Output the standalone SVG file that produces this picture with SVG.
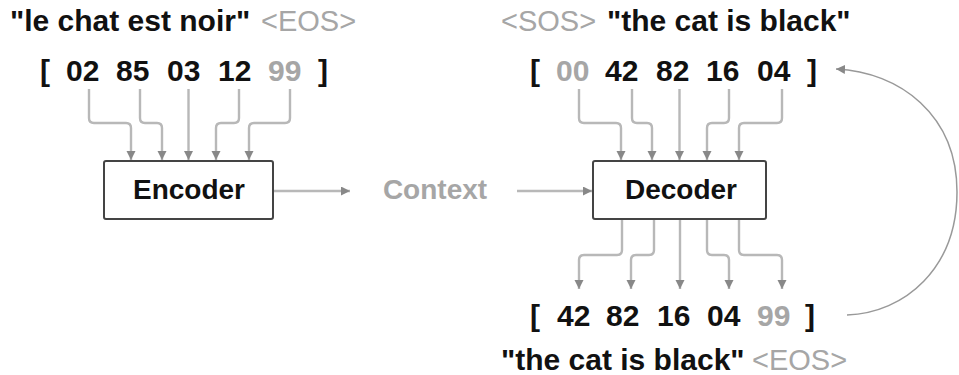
<svg xmlns="http://www.w3.org/2000/svg" width="959" height="375" viewBox="0 0 959 375">
<style>
text{font-family:"Liberation Sans",Arial,sans-serif;font-weight:bold;font-size:30px;fill:#111}
.g{fill:#a6a6a6;font-weight:normal;font-size:29px}
.gb{fill:#a6a6a6}
.lbl{font-size:28px}
.box{fill:#fff;stroke:#444;stroke-width:2}
.wire{fill:none;stroke:#b8b8b8;stroke-width:2.4}
.loop{fill:none;stroke:#999;stroke-width:1.5}
</style>
<defs>
<marker id="ah" markerUnits="userSpaceOnUse" markerWidth="10" markerHeight="10" refX="9" refY="4.5" orient="auto">
<path d="M0,0 L9,4.5 L0,9 z" fill="#888"/>
</marker>
</defs>

<g id="enc-title">
<text x="10" y="31">"le chat est noir"</text>
<text class="g" x="261" y="31">&lt;EOS&gt;</text>
</g>
<g id="enc-input">
<text x="40" y="81">[</text>
<text x="66" y="81">02</text>
<text x="116" y="81">85</text>
<text x="167" y="81">03</text>
<text x="218" y="81">12</text>
<text class="gb" x="268" y="81">99</text>
<text x="318" y="81">]</text>
</g>

<g id="encoder">
<rect class="box" x="104" y="161" width="169" height="58" rx="2"/>
<text class="lbl" x="189" y="199" text-anchor="middle">Encoder</text>
</g>

<g id="context">
<text class="gb lbl" x="435" y="199" text-anchor="middle">Context</text>
</g>

<g id="dec-title">
<text class="g" x="501" y="31">&lt;SOS&gt;</text>
<text x="607" y="31">"the cat is black"</text>
</g>
<g id="dec-input">
<text x="530" y="81">[</text>
<text class="gb" x="556" y="81">00</text>
<text x="605" y="81">42</text>
<text x="656" y="81">82</text>
<text x="706" y="81">16</text>
<text x="757" y="81">04</text>
<text x="807" y="81">]</text>
</g>

<g id="decoder">
<rect class="box" x="593" y="161" width="173" height="58" rx="2"/>
<text class="lbl" x="681" y="199" text-anchor="middle">Decoder</text>
</g>

<g id="dec-output">
<text x="530" y="326">[</text>
<text x="557" y="326">42</text>
<text x="606" y="326">82</text>
<text x="657" y="326">16</text>
<text x="707" y="326">04</text>
<text class="gb" x="757" y="326">99</text>
<text x="805" y="326">]</text>
</g>
<g id="out-title">
<text x="501" y="370">"the cat is black"</text>
<text class="g" x="752" y="370">&lt;EOS&gt;</text>
</g>

<g id="connectors">
<path class="wire" marker-end="url(#ah)" d="M89,89 V118 Q89,123 94,123 H126 Q131,123 131,128 V160"/>
<path class="wire" marker-end="url(#ah)" d="M140,89 V118 Q140,123 145,123 H157 Q162,123 162,128 V160"/>
<path class="wire" marker-end="url(#ah)" d="M188.5,89 V160"/>
<path class="wire" marker-end="url(#ah)" d="M239,89 V118 Q239,123 234,123 H221 Q216,123 216,128 V160"/>
<path class="wire" marker-end="url(#ah)" d="M290,89 V118 Q290,123 285,123 H254 Q249,123 249,128 V160"/>

<path class="wire" marker-end="url(#ah)" d="M274,191 H350"/>
<path class="wire" marker-end="url(#ah)" d="M517,191 H592"/>

<path class="wire" marker-end="url(#ah)" d="M579,89 V118 Q579,123 584,123 H616 Q621,123 621,128 V160"/>
<path class="wire" marker-end="url(#ah)" d="M632,89 V118 Q632,123 637,123 H647 Q652,123 652,128 V160"/>
<path class="wire" marker-end="url(#ah)" d="M679.5,89 V160"/>
<path class="wire" marker-end="url(#ah)" d="M729,89 V118 Q729,123 724,123 H712 Q707,123 707,128 V160"/>
<path class="wire" marker-end="url(#ah)" d="M782,89 V118 Q782,123 777,123 H744 Q739,123 739,128 V160"/>

<path class="wire" marker-end="url(#ah)" d="M622,220 V250 Q622,255 617,255 H584 Q579,255 579,260 V289"/>
<path class="wire" marker-end="url(#ah)" d="M654,220 V250 Q654,255 649,255 H636 Q631,255 631,260 V289"/>
<path class="wire" marker-end="url(#ah)" d="M680,220 V289"/>
<path class="wire" marker-end="url(#ah)" d="M707,220 V250 Q707,255 712,255 H724 Q729,255 729,260 V289"/>
<path class="wire" marker-end="url(#ah)" d="M739,220 V250 Q739,255 744,255 H777 Q782,255 782,260 V289"/>

<path class="loop" marker-end="url(#ah)" d="M847,315 C905,313 957,268 957,192 C957,115 900,72 836,69"/>
</g>
</svg>
